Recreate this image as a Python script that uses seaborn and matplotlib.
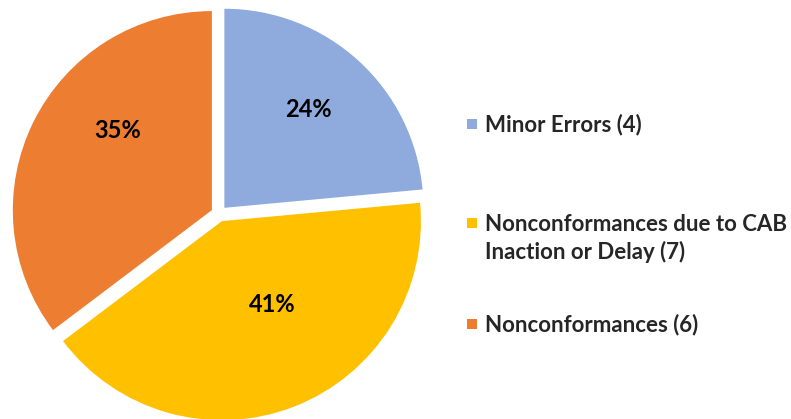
import textwrap

import matplotlib
matplotlib.use("Agg")
from matplotlib import pyplot as plt
from matplotlib.lines import Line2D
import numpy as np
import seaborn as sns

# data
categories = ["Minor Errors", "Nonconformances due to CAB Inaction or Delay", "Nonconformances"]
counts = [4, 7, 6]
colors = ["#8FAADC", "#FFC000", "#ED7D31"]

sns.set_theme(style="white")
plt.rcParams["font.family"] = ["Lato", "DejaVu Sans"]

W, H = 791, 419
fig = plt.figure(figsize=(W / 100, H / 100), dpi=100)
ax = fig.add_axes([8 / W, -5.7 / H, 422 / W, 422 / H])

wedges, _, autotexts = ax.pie(
    counts, colors=colors, startangle=90, counterclock=False,
    explode=[0.04] * len(counts), autopct="%1.0f%%", pctdistance=0.6,
    wedgeprops=dict(linewidth=0),
    textprops=dict(fontsize=17, fontweight="bold", color="black"),
)

# Excel "best fit" label placement: nudge each label off the mid angle
label_shift = [2, 10, -14]
label_dist = [0.65, 0.49, 0.62]
for w, t, da, r in zip(wedges, autotexts, label_shift, label_dist):
    a = np.deg2rad((w.theta1 + w.theta2) / 2 + da)
    cx, cy = w.center
    t.set_position((cx + r * np.cos(a), cy + r * np.sin(a)))

ax.set_xlim(-1.06, 1.06)
ax.set_ylim(-1.06, 1.06)
ax.set_aspect("equal")
ax.axis("off")

# one legend per entry so the spacing can follow the original
legend_tops = [114, 214, 314]
for cat, n, col, top in zip(categories, counts, colors, legend_tops):
    lines = textwrap.wrap(f"{cat} ({n})", 27)
    handles = [Line2D([], [], ls="none", marker="s", markersize=6.5,
                      color=col, markeredgewidth=0)]
    handles += [Line2D([], [], ls="none")] * (len(lines) - 1)
    fig.legend(handles, lines, loc="upper left",
               bbox_to_anchor=(467 / W, 1 - top / H),
               frameon=False, borderpad=0, borderaxespad=0,
               handlelength=0.42, handletextpad=0.38, labelspacing=0.28,
               prop=dict(size=16, weight="bold"))

fig.savefig("out.png", dpi=100)
